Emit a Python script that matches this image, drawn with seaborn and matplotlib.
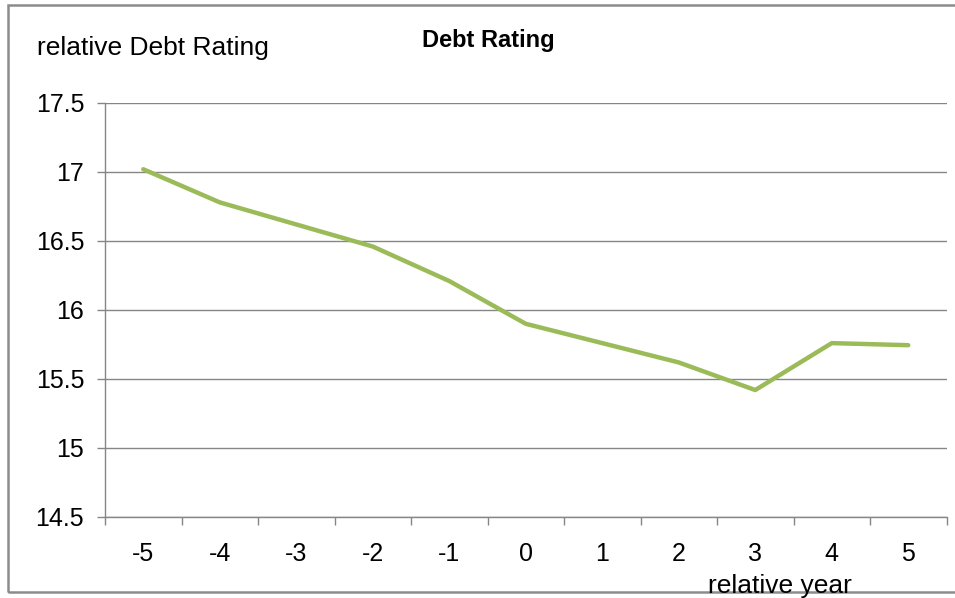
import matplotlib
matplotlib.use("Agg")
import matplotlib.pyplot as plt
import seaborn as sns
import pandas as pd
from matplotlib.patches import Rectangle
from matplotlib.ticker import FixedLocator

years = ["-5", "-4", "-3", "-2", "-1", "0", "1", "2", "3", "4", "5"]
rating = [17.02, 16.78, 16.62, 16.46, 16.21, 15.90, 15.76, 15.62, 15.42, 15.76, 15.745]
y_ticks = [14.5, 15, 15.5, 16, 16.5, 17, 17.5]
y_tick_labels = ["14.5", "15", "15.5", "16", "16.5", "17", "17.5"]

sns.set_theme(style="white")
plt.rcParams['font.family'] = ['Liberation Sans', 'DejaVu Sans']
plt.rcParams['text.color'] = 'black'

fig = plt.figure(figsize=(9.55, 5.98), dpi=100)
ax = fig.add_axes([105/955, 1-517/598, (946.5-105)/955, (517-103)/598])

df = pd.DataFrame({"year": years, "rating": rating})
sns.lineplot(data=df, x="year", y="rating", sort=False, ax=ax,
             color="#9BBB59", linewidth=3.2, zorder=3)

ax.set_xlim(-0.5, len(years) - 0.5)
ax.set_ylim(14.5, 17.5)
ax.set_yticks(y_ticks)
ax.set_yticklabels(y_tick_labels)
ax.set_xticks(range(len(years)))
ax.set_xticklabels(years)
ax.xaxis.set_minor_locator(FixedLocator([i - 0.5 for i in range(len(years) + 1)]))
ax.tick_params(axis="x", which="major", length=0, pad=18, labelsize=18, labelcolor="black")
ax.tick_params(axis="x", which="minor", length=6, width=1, color="#868686", direction="out", bottom=True)
ax.tick_params(axis="y", which="major", length=6, width=1, color="#868686", direction="out",
               left=True, pad=9, labelsize=18, labelcolor="black")

ax.grid(axis="y", color="#868686", linewidth=1)
ax.grid(axis="x", visible=False)
for s in ["top", "right"]:
    ax.spines[s].set_visible(False)
for s in ["left", "bottom"]:
    ax.spines[s].set_color("#868686")
    ax.spines[s].set_linewidth(1)
ax.set_xlabel("")
ax.set_ylabel("")

fig.text(37/955, 1-55/598, "relative Debt Rating", fontsize=19, ha="left", va="baseline", color="black")
fig.text(488/955, 1-47/598, "Debt Rating", fontsize=17, fontweight="bold", ha="center", va="baseline", color="black")

border = Rectangle((8/955, 1-592/598), 1.2, (592-5)/598, transform=fig.transFigure,
                   fill=False, edgecolor="#8c8c8c", linewidth=1.8, zorder=0)
fig.patches.append(border)

fig.text(708/955, 1-593/598, "relative year", fontsize=19, ha="left", va="baseline", zorder=5, color="black")

fig.savefig("out.png", dpi=100)
